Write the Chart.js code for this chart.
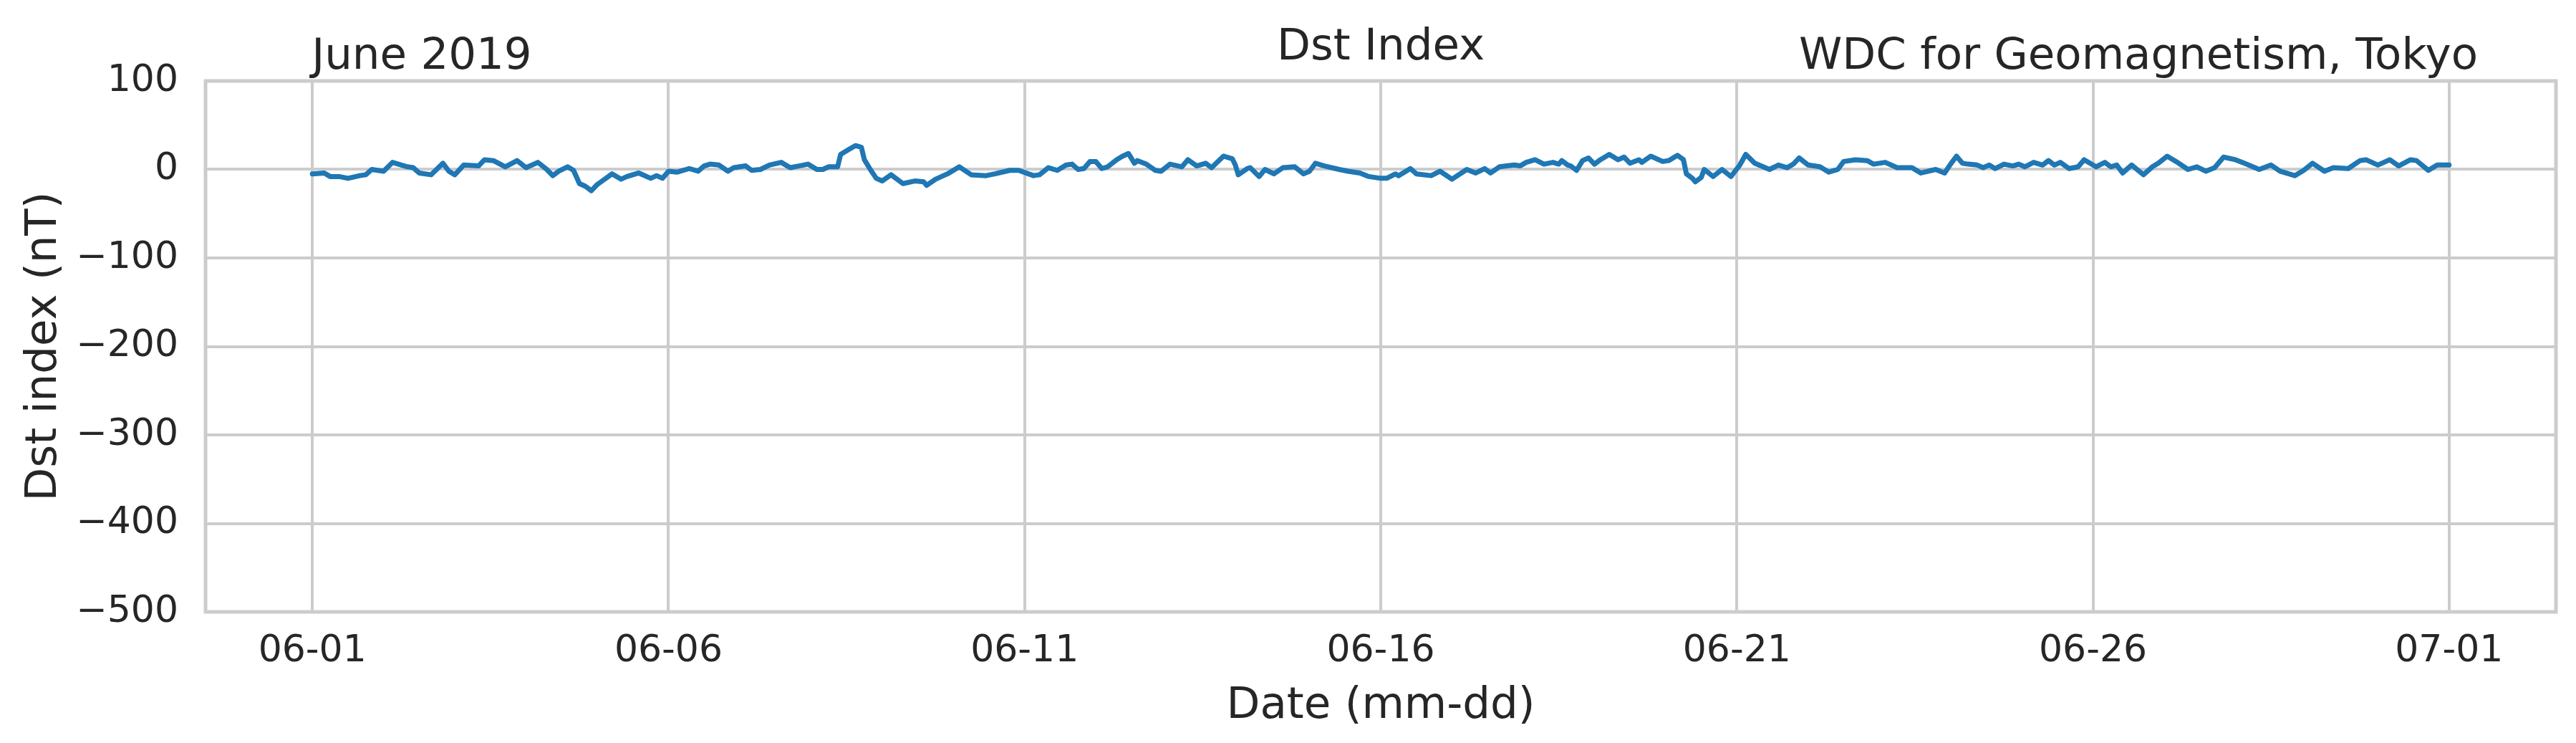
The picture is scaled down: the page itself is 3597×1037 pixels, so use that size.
<!DOCTYPE html>
<html>
<head>
<meta charset="utf-8">
<script src="https://cdn.jsdelivr.net/npm/chart.js@4.4.1/dist/chart.umd.min.js"></script>
<style>
  html, body { margin: 0; padding: 0; background: #ffffff; }
  canvas { display: block; }
</style>
</head>
<body>
<canvas id="c" width="3597" height="1037"></canvas>
<script>
// ---- Data (hours since 2019-06-01 00:00 UT, Dst in nT) ----
const hours = [0,4,6,9,12,16,18,20,24,27,32,34,36,40,44,46,48,51,56,58,61,65,69,72,76,79,81,83,86,88,90,92,94,96,101,104,106,110,114,116,
118,120,123,127,130,132,134,137,140,142,146,148,151,154,158,161,164,167,170,172,174,177,178,181,183,185,186,188,190,192,195,199,203,206,207,210,214,218,222,227,230,235,
238,243,245,248,251,254,256,258,260,262,264,266,268,271,273,275,277,278,281,284,286,289,293,295,298,301,303,307,310,311,312,315,316,319,321,324,327,331,334,336,338,341,346,349,353,356,
360,362,365,366,370,372,377,380,384,389,392,395,397,400,405,407,409,412,415,418,420,421,423,424,426,428,430,432,434,437,440,442,444,447,448,451,455,457,460,462,463,465,466,468,469,472,475,478,
481,483,486,491,494,497,499,501,504,508,511,514,516,520,524,526,530,534,539,542,547,550,552,554,556,558,561,563,565,567,570,573,575,577,580,583,585,587,589,592,595,597,599,
601,604,606,608,610,613,617,620,622,625,628,632,635,638,641,644,648,651,656,660,663,668,671,674,678,681,686,690,692,696,700,703,707,709,713,716,720];
const dst = [-5,-4,-8,-8,-10,-7,-6,0,-2,8,3,2,-4,-6,7,-2,-6,5,4,11,10,3,10,2,8,0,-7,-2,3,-1,-16,-19,-24,-17,-5,-11,-8,-4,-10,-7,
-10,-2,-3,1,-2,4,6,5,-2,2,4,-1,0,5,8,2,4,6,0,0,3,3,17,23,27,25,11,0,-10,-13,-6,-16,-13,-14,-18,-11,-5,3,-6,-7,-5,-1,
-1,-7,-6,2,-1,5,6,0,1,9,9,1,3,11,15,18,7,10,6,-1,-2,6,3,11,4,7,2,15,12,5,-6,1,2,-8,0,-5,2,3,-5,-2,7,4,0,-2,-4,-8,
-10,-10,-5,-7,1,-5,-7,-2,-11,0,-4,1,-4,3,5,4,8,11,6,8,6,10,5,4,-1,10,13,6,11,17,11,14,7,11,8,15,9,10,16,11,-5,-10,-14,-9,0,-8,0,-8,
5,17,7,0,5,2,6,13,5,3,-3,0,9,11,10,6,8,2,2,-4,0,-4,6,15,7,6,5,2,5,1,6,4,6,3,8,5,10,5,8,1,3,11,7,
3,8,3,5,-4,5,-6,3,7,15,9,0,3,-2,2,14,11,7,0,5,-2,-7,-1,7,-2,2,1,10,11,5,11,4,11,10,-1,5,5];

const tickHours  = [0, 120, 240, 360, 480, 600, 720];
const tickLabels = ['06-01', '06-06', '06-11', '06-16', '06-21', '06-26', '07-01'];
const yTickValues = [100, 0, -100, -200, -300, -400, -500];

const titleLeft = 'June 2019';
const titleCenter = 'Dst Index';
const titleRight = 'WDC for Geomagnetism, Tokyo';
const xAxisLabel = 'Date (mm-dd)';
const yAxisLabel = 'Dst index (nT)';

const FONT = "'DejaVu Sans', 'Liberation Sans', sans-serif";
const TEXT = '#262626';
const GRID = '#cccccc';

const textPlugin = {
  id: 'texts',
  beforeDraw(chart) {
    const ctx = chart.ctx;
    ctx.save();
    ctx.fillStyle = '#ffffff';
    ctx.fillRect(0, 0, chart.width, chart.height);
    ctx.restore();
  },
  afterDatasetsDraw(chart) {
    const ctx = chart.ctx;
    const a = chart.chartArea;
    ctx.save();
    ctx.strokeStyle = GRID;
    ctx.lineWidth = 5;
    ctx.strokeRect(a.left, a.top, a.right - a.left, a.bottom - a.top);
    ctx.restore();
  },
  afterDraw(chart) {
    const ctx = chart.ctx;
    const a = chart.chartArea;
    const cx = (a.left + a.right) / 2;
    const cy = (a.top + a.bottom) / 2;
    const xs = chart.scales.x;
    ctx.save();
    ctx.fillStyle = TEXT;
    ctx.font = '61px ' + FONT;
    ctx.textBaseline = 'alphabetic';
    ctx.textAlign = 'left';
    ctx.fillText(titleLeft, xs.getPixelForValue(0) - 1, 96);
    ctx.textAlign = 'center';
    ctx.fillText(titleCenter, cx, 83);
    ctx.textAlign = 'right';
    ctx.fillText(titleRight, 3460, 96);
    ctx.textAlign = 'center';
    ctx.fillText(xAxisLabel, cx, 1002);
    ctx.translate(78, cy);
    ctx.rotate(-Math.PI / 2);
    ctx.fillText(yAxisLabel, 0, 0);
    ctx.restore();
  }
};

new Chart(document.getElementById('c'), {
  type: 'line',
  data: {
    datasets: [{
      data: hours.map((h, i) => ({ x: h, y: dst[i] })),
      borderColor: '#1f77b4',
      borderWidth: 7,
      pointRadius: 0,
      tension: 0,
      fill: false,
      borderJoinStyle: 'round',
      borderCapStyle: 'round'
    }]
  },
  options: {
    responsive: false,
    animation: false,
    devicePixelRatio: 1,
    layout: { padding: { left: 0, top: 113, right: 28, bottom: 0 } },
    plugins: { legend: { display: false }, tooltip: { enabled: false }, title: { display: false } },
    scales: {
      x: {
        type: 'linear',
        min: -36,
        max: 756,
        afterBuildTicks: s => { s.ticks = tickHours.map(v => ({ value: v })); },
        afterFit: s => { s.height = 183; },
        ticks: {
          autoSkip: false,
          maxRotation: 0,
          minRotation: 0,
          padding: 24,
          color: TEXT,
          font: { family: FONT, size: 52 },
          callback: v => tickLabels[tickHours.indexOf(v)]
        },
        grid: { color: GRID, lineWidth: 4, drawTicks: false },
        border: { display: false }
      },
      y: {
        min: -500,
        max: 100,
        afterBuildTicks: s => { s.ticks = yTickValues.map(v => ({ value: v })); },
        afterFit: s => { s.width = 287; },
        ticks: {
          padding: 38,
          color: TEXT,
          font: { family: FONT, size: 52 },
          callback: v => (v < 0 ? '\u2212' + Math.abs(v) : String(v))
        },
        grid: { color: GRID, lineWidth: 4, drawTicks: false },
        border: { display: false }
      }
    }
  },
  plugins: [textPlugin]
});
</script>
</body>
</html>
